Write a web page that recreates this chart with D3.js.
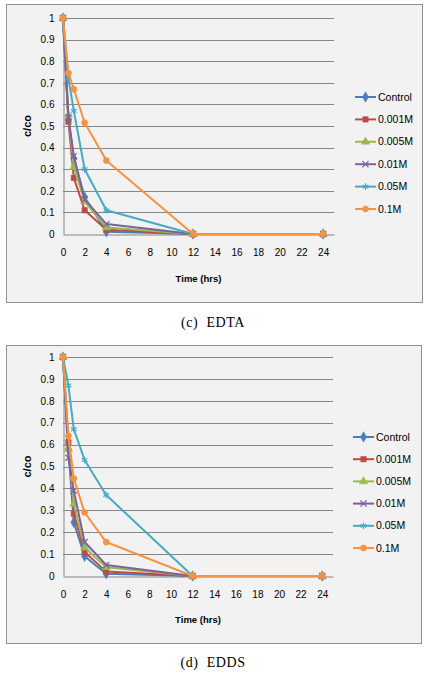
<!DOCTYPE html>
<html>
<head>
<meta charset="utf-8">
<script src="https://cdn.jsdelivr.net/npm/d3@7/dist/d3.min.js"></script>
<style>
  html, body { margin: 0; padding: 0; background: #ffffff; }
  svg { display: block; }
</style>
</head>
<body>
<svg id="chart" width="431" height="677"></svg>
<script>
// ---- data ----
const times = [0, 0.5, 1, 2, 4, 12, 24];
const seriesNames = ["Control", "0.001M", "0.005M", "0.01M", "0.05M", "0.1M"];
const xTicks = [0, 2, 4, 6, 8, 10, 12, 14, 16, 18, 20, 22, 24];
const yTicks = [0, 0.1, 0.2, 0.3, 0.4, 0.5, 0.6, 0.7, 0.8, 0.9, 1];

// EDTA
const edtaControl = [1, 0.53, 0.35, 0.17, 0.01, 0, 0];
const edta0001 = [1, 0.52, 0.26, 0.11, 0.02, 0, 0];
const edta0005 = [1, 0.55, 0.31, 0.15, 0.03, 0, 0];
const edta001 = [1, 0.54, 0.36, 0.16, 0.046, 0, 0];
const edta005 = [1, 0.72, 0.57, 0.30, 0.11, 0, 0];
const edta01 = [1, 0.745, 0.67, 0.515, 0.34, 0, 0];

// EDDS
const eddsControl = [1, 0.58, 0.245, 0.09, 0.01, 0, 0];
const edds0001 = [1, 0.61, 0.285, 0.11, 0.02, 0, 0];
const edds0005 = [1, 0.58, 0.33, 0.13, 0.04, 0, 0];
const edds001 = [1, 0.54, 0.39, 0.155, 0.05, 0, 0];
const edds005 = [1, 0.87, 0.67, 0.53, 0.37, 0, 0];
const edds01 = [1, 0.64, 0.445, 0.29, 0.155, 0, 0];

const colors = ["#4A7EBB", "#BE4B48", "#98B954", "#7D60A0", "#46AAC5", "#F69240"];
const symbols = [d3.symbolDiamond, d3.symbolSquare, d3.symbolTriangle, d3.symbolX, d3.symbolAsterisk, d3.symbolCircle];
const symbolSizes = [32, 30, 30, 26, 30, 30];
const strokeSymbols = [false, false, false, true, true, false];

const svg = d3.select("#chart");
const fontSans = "'Liberation Sans', Arial, sans-serif";

function drawChart(cfg) {
  const g = svg.append("g");
  // outer box
  g.append("rect")
    .attr("x", cfg.box[0] + 0.5).attr("y", cfg.box[1] + 0.5)
    .attr("width", cfg.box[2]).attr("height", cfg.box[3])
    .attr("fill", "#f2f2f2").attr("stroke", "#8f8f8f").attr("stroke-width", 1);

  const x = d3.scaleLinear().domain([0, 25]).range([cfg.plot.left, cfg.plot.right]);
  const y = d3.scaleLinear().domain([0, 1]).range([cfg.plot.bottom, cfg.plot.top]);

  // gridlines
  g.append("g").selectAll("line").data(yTicks.filter(d => d > 0)).join("line")
    .attr("x1", cfg.plot.left).attr("x2", cfg.plot.right)
    .attr("y1", d => Math.round(y(d)) + 0.5).attr("y2", d => Math.round(y(d)) + 0.5)
    .attr("stroke", "#868686").attr("stroke-width", 1);

  // axes
  const yAxis = d3.axisLeft(y).tickValues(yTicks).tickSize(0).tickPadding(9)
    .tickFormat(d => d3.format("")(+d.toFixed(1)));
  const ya = g.append("g").attr("transform", `translate(${cfg.plot.left + 0.5},0)`).call(yAxis);
  ya.select(".domain").attr("stroke", "#868686");
  ya.selectAll("text").attr("font-family", fontSans).attr("font-size", 10).attr("fill", "#000");

  const xAxis = d3.axisBottom(x).tickValues(xTicks).tickSize(0).tickPadding(14);
  const xa = g.append("g").attr("transform", `translate(0,${Math.round(y(0)) + 0.5})`).call(xAxis);
  xa.select(".domain").attr("stroke", "#868686");
  xa.selectAll("text").attr("font-family", fontSans).attr("font-size", 10).attr("fill", "#000");

  // axis titles
  g.append("text")
    .attr("x", (cfg.plot.left + cfg.plot.right) / 2).attr("y", cfg.xTitleY)
    .attr("text-anchor", "middle").attr("font-family", fontSans)
    .attr("font-size", 9.5).attr("font-weight", "bold").text("Time (hrs)");
  g.append("text")
    .attr("transform", `translate(${cfg.yTitleX},${(cfg.plot.top + cfg.plot.bottom) / 2}) rotate(-90)`)
    .attr("text-anchor", "middle").attr("font-family", fontSans)
    .attr("font-size", 11).attr("font-weight", "bold").text("c/co");

  // lines
  const line = d3.line().x(d => x(d[0])).y(d => y(d[1]));
  cfg.series.forEach((vals, i) => {
    const pts = times.map((t, j) => [t, vals[j]]);
    g.append("path").datum(pts).attr("d", line)
      .attr("fill", "none").attr("stroke", colors[i]).attr("stroke-width", 2)
      .attr("stroke-linejoin", "round");
    g.append("g").selectAll("path").data(pts).join("path")
      .attr("transform", d => `translate(${x(d[0])},${y(d[1])})`)
      .attr("d", d3.symbol().type(symbols[i]).size(symbolSizes[i]))
      .attr("fill", strokeSymbols[i] ? "none" : colors[i])
      .attr("stroke", colors[i]).attr("stroke-width", strokeSymbols[i] ? 1.2 : 0.5);
  });

  // legend
  seriesNames.forEach((name, i) => {
    const ly = cfg.legend.y0 + i * cfg.legend.step;
    g.append("line")
      .attr("x1", cfg.legend.x).attr("x2", cfg.legend.x + 21)
      .attr("y1", ly).attr("y2", ly)
      .attr("stroke", colors[i]).attr("stroke-width", 2);
    g.append("path")
      .attr("transform", `translate(${cfg.legend.x + 10.5},${ly})`)
      .attr("d", d3.symbol().type(symbols[i]).size(symbolSizes[i]))
      .attr("fill", strokeSymbols[i] ? "none" : colors[i])
      .attr("stroke", colors[i]).attr("stroke-width", strokeSymbols[i] ? 1.2 : 0.5);
    g.append("text")
      .attr("x", cfg.legend.x + 23).attr("y", ly).attr("dy", "0.35em")
      .attr("font-family", fontSans).attr("font-size", 10.5).attr("fill", "#000")
      .text(name);
  });

  // caption
  svg.append("text")
    .attr("x", 213).attr("y", cfg.captionY)
    .attr("text-anchor", "middle")
    .attr("font-family", "'Liberation Serif', 'Times New Roman', serif")
    .attr("font-size", 14).attr("fill", "#000")
    .attr("letter-spacing", 0.6).attr("word-spacing", 4)
    .text(cfg.caption);
}

drawChart({
  box: [6, 4, 416, 298],
  plot: { left: 63, right: 334, top: 18, bottom: 234 },
  xTitleY: 282, yTitleX: 31,
  series: [edtaControl, edta0001, edta0005, edta001, edta005, edta01],
  legend: { x: 355, y0: 97, step: 22.4 },
  caption: "(c) EDTA", captionY: 327
});

drawChart({
  box: [6, 345, 415, 298],
  plot: { left: 63, right: 333, top: 357, bottom: 576 },
  xTitleY: 623, yTitleX: 31,
  series: [eddsControl, edds0001, edds0005, edds001, edds005, edds01],
  legend: { x: 353, y0: 437, step: 22.2 },
  caption: "(d) EDDS", captionY: 667
});
</script>
</body>
</html>
